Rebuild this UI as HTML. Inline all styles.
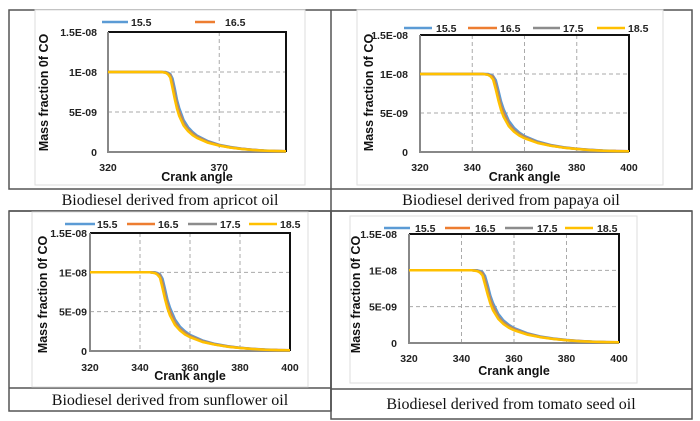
<!DOCTYPE html>
<html><head><meta charset="utf-8"><style>
body{margin:0;background:#fff;}
svg{display:block;}
.tick{font:bold 10.5px "Liberation Sans",sans-serif;fill:#222;}
.ttl{font:bold 12.5px "Liberation Sans",sans-serif;fill:#111;}
.cap{font:16px "Liberation Serif",serif;fill:#111;}
</style></head><body>
<svg id="root" width="700" height="421" viewBox="0 0 700 421" xmlns="http://www.w3.org/2000/svg">
<g stroke="#555" stroke-width="1.5" fill="none">
<rect x="9" y="10" width="683" height="179"/>
<line x1="331" y1="10" x2="331" y2="411"/>
<line x1="9" y1="211" x2="692" y2="211"/>
<rect x="9" y="211" width="322" height="200"/>
<line x1="9" y1="388" x2="331" y2="388"/>
<rect x="331" y="211" width="361" height="208"/>
<line x1="331" y1="389" x2="692" y2="389"/>
</g>
<text class="cap" x="170" y="205" text-anchor="middle">Biodiesel derived from apricot oil</text>
<text class="cap" x="511" y="205" text-anchor="middle">Biodiesel derived from papaya oil</text>
<text class="cap" x="170" y="405" text-anchor="middle">Biodiesel derived from sunflower oil</text>
<text class="cap" x="511" y="409" text-anchor="middle">Biodiesel derived from tomato seed oil</text>
</svg>
<script>
const angles=[320,330,340,344,346,347,348,349,350,351,352,354,356,358,360,365,370,375,380,385,390,395,400];
const s155=[10,10,10,10,10,9.9,9.75,9.2,7.9,6.5,5.5,4.0,3.1,2.5,2.05,1.35,0.9,0.62,0.42,0.28,0.19,0.13,0.1];
const s165=[10,10,10,10,9.95,9.8,9.6,8.6,7.2,5.9,5.0,3.6,2.8,2.3,1.9,1.25,0.85,0.58,0.4,0.27,0.18,0.13,0.1];
const s175=[10,10,10,10,9.92,9.75,9.45,8.3,6.9,5.6,4.7,3.45,2.7,2.2,1.82,1.2,0.82,0.56,0.39,0.26,0.17,0.12,0.1];
const s185=[10,10,10,10,9.9,9.7,9.3,8.0,6.6,5.4,4.5,3.3,2.6,2.1,1.75,1.15,0.8,0.55,0.38,0.25,0.17,0.12,0.1];
const seriesNames=["15.5","16.5","17.5","18.5"];
const yTickVals=[0,5,10,15];
const yTickLabels=["0","5E-09","1E-08","1.5E-08"];
const xTicksA=[320,370];
const xTicksB=[320,340,360,380,400];
const NS="http://www.w3.org/2000/svg";
const root=document.getElementById('root');
const allSeries=[s155,s165,s175,s185];
const colors=["#5B9BD5","#ED7D31","#8C8C8C","#FFC000"];
function mk(tag,attrs,parent){const e=document.createElementNS(NS,tag);for(const k in attrs)e.setAttribute(k,attrs[k]);parent.appendChild(e);return e;}
const charts=[
 {id:'apricot',frame:[35,10,305,185],plot:[108,32,286,152],xt:xTicksA,leg:[[102,128,131],[195,215,225]],legY:22,nLeg:2,tickY:171,ttlY:181,ylx:48,ytr:97},
 {id:'papaya',frame:[357,10,663,185],plot:[420,35,629,152],xt:xTicksB,leg:[[404,432,436],[468,497,500],[533,560,563],[597,625,628]],legY:28,nLeg:4,tickY:171,ttlY:181,ylx:373,ytr:408},
 {id:'sunflower',frame:[32,212,308,387],plot:[90,233,290,351],xt:xTicksB,leg:[[65,95,97],[127,155,158],[188,217,220],[249,277,280]],legY:224,nLeg:4,tickY:371,ttlY:380,ylx:47,ytr:87},
 {id:'tomato',frame:[350,216,637,383],plot:[409,234,619,343],xt:xTicksB,leg:[[384,410,415],[445,470,475],[505,533,537],[565,593,597]],legY:228,nLeg:4,tickY:362,ttlY:375,ylx:360,ytr:397}
];
charts.forEach(c=>{
 const g=mk('g',{},root);
 
 
 const fr=mk('rect',{x:c.frame[0],y:c.frame[1],width:c.frame[2]-c.frame[0],height:c.frame[3]-c.frame[1],fill:'#fff',stroke:'#ddd','stroke-width':1},g);
 
 
 const [x0,y0,x1,y1]=c.plot;
 const xs=v=>x0+(v-320)/(400-320)*(x1-x0);
 const ys=v=>y1-(v/15)*(y1-y0);
 yTickVals.forEach((v,i)=>{
  if(v>0&&v<15){const l=mk('line',{x1:x0,x2:x1,y1:ys(v),y2:ys(v),stroke:'#aaa','stroke-dasharray':'4,3','stroke-width':1},g);
  
  }
  const t=mk('text',{x:c.ytr,y:ys(v)+4,'text-anchor':'end',class:'tick'},g);t.textContent=yTickLabels[i];
  
  
 });
 c.xt.forEach(v=>{
  if(v>320&&v<400){const l=mk('line',{x1:xs(v),x2:xs(v),y1:y0,y2:y1,stroke:'#aaa','stroke-dasharray':'4,3','stroke-width':1},g);
  
  }
  const t=mk('text',{x:xs(v),y:c.tickY,'text-anchor':'middle',class:'tick'},g);t.textContent=v;
  
  
 });
 const ax=mk('path',{d:`M${x0},${y0}H${x1}V${y1}`,fill:'none',stroke:'#111','stroke-width':2},g);
 
 
 const ax2=mk('path',{d:`M${x0},${y0}V${y1}H${x1}`,fill:'none',stroke:'#888','stroke-width':2},g);
 
 
 allSeries.forEach((s,si)=>{
  const d=s.map((v,i)=>(i?'L':'M')+xs(angles[i]).toFixed(1)+','+ys(v).toFixed(1)).join('');
  const p=mk('path',{d:d,fill:'none',stroke:colors[si],'stroke-width':2.5,'stroke-linejoin':'round'},g);
  
  
 });
 for(let i=0;i<c.nLeg;i++){
  const L=c.leg[i];
  const ln=mk('line',{x1:L[0],x2:L[1],y1:c.legY,y2:c.legY,stroke:colors[i],'stroke-width':2.5},g);
  
  
  const t=mk('text',{x:L[2],y:c.legY+4,class:'tick'},g);t.textContent=seriesNames[i];
  
  
 }
 const xt=mk('text',{x:(x0+x1)/2,y:c.ttlY,'text-anchor':'middle',class:'ttl'},g);xt.textContent='Crank angle';
 
 
 const cy=(c.frame[1]+c.frame[3])/2-5;
 const yt=mk('text',{x:c.ylx,y:cy,'text-anchor':'middle',class:'ttl',transform:`rotate(-90 ${c.ylx} ${cy})`},g);yt.textContent='Mass  fraction 0f CO';
 yt.setAttribute('xml:space','preserve');
 
 
});
</script>
</body></html>
